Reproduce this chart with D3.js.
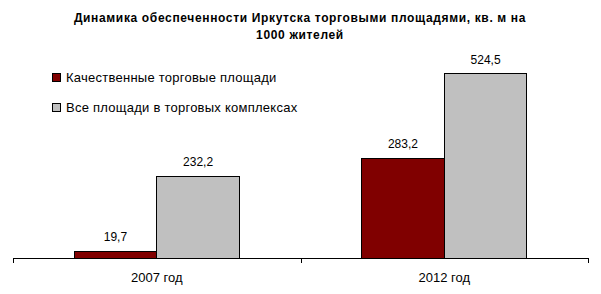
<!DOCTYPE html>
<html>
<head>
<meta charset="utf-8">
<script src="https://cdn.jsdelivr.net/npm/d3@7"></script>
<style>
  body { margin: 0; background: #fff; }
  svg { display: block; font-family: Arial, "Liberation Sans", sans-serif; }
</style>
</head>
<body>
<div id="wrapper"></div>
<script>
// Data
const categories = ["2007 год", "2012 год"]
const seriesNames = ["Качественные торговые площади", "Все площади в торговых комплексах"]
const qualityValues = [19.7, 283.2]
const allValues = [232.2, 524.5]
const titleLines = ["Динамика обеспеченности Иркутска торговыми площадями, кв. м на", "1000 жителей"]
const colors = ["#800000", "#c0c0c0"]

function drawBars() {
  const dimensions = {
    width: 601,
    height: 294,
    margin: { top: 47, right: 13, bottom: 36, left: 13 },
  }
  dimensions.boundedWidth = dimensions.width - dimensions.margin.left - dimensions.margin.right
  dimensions.boundedHeight = dimensions.height - dimensions.margin.top - dimensions.margin.bottom

  const svg = d3.select("#wrapper").append("svg")
    .attr("width", dimensions.width)
    .attr("height", dimensions.height)

  // title
  svg.append("text")
    .attr("x", 300)
    .attr("y", 22)
    .attr("text-anchor", "middle")
    .style("font-size", "12px")
    .style("font-weight", "bold")
    .style("letter-spacing", "0.65px")
    .selectAll("tspan")
    .data(titleLines)
    .join("tspan")
      .attr("x", 300)
      .attr("dy", (d, i) => i ? 17 : 0)
      .text(d => d)

  const bounds = svg.append("g")
    .attr("transform", `translate(${dimensions.margin.left},${dimensions.margin.top})`)

  // scales
  const xScale = d3.scaleBand()
    .domain(categories)
    .range([0, dimensions.boundedWidth])
    .paddingInner(0.425)
    .paddingOuter(0.2125)

  const subScale = d3.scaleBand()
    .domain(d3.range(seriesNames.length))
    .range([0, xScale.bandwidth()])

  const yScale = d3.scaleLinear()
    .domain([0, 600])
    .range([dimensions.boundedHeight, 0])

  const fmt = d3.formatLocale({ decimal: ",", thousands: " ", grouping: [3], currency: ["", ""] }).format(".1f")

  const table = categories.map((c, i) => ({ category: c, values: [qualityValues[i], allValues[i]] }))

  const groups = bounds.selectAll("g.group")
    .data(table)
    .join("g")
      .attr("class", "group")
      .attr("transform", d => `translate(${xScale(d.category)},0)`)

  const cells = groups.selectAll("g.cell")
    .data(d => d.values.map((v, k) => ({ v, k })))
    .join("g")
      .attr("class", "cell")

  cells.append("rect")
    .attr("x", d => subScale(d.k))
    .attr("y", d => yScale(d.v))
    .attr("width", subScale.bandwidth())
    .attr("height", d => yScale(0) - yScale(d.v))
    .attr("fill", d => colors[d.k])
    .attr("stroke", "#000")
    .attr("stroke-width", 1)
    .attr("shape-rendering", "crispEdges")

  cells.append("text")
    .attr("x", d => subScale(d.k) + subScale.bandwidth() / 2)
    .attr("y", d => yScale(d.v) - 10)
    .attr("text-anchor", "middle")
    .style("font-size", "12px")
    .text(d => fmt(d.v))

  // axis with ticks on category boundaries
  const edgeScale = d3.scaleLinear()
    .domain([0, categories.length])
    .range([0, dimensions.boundedWidth])

  const xAxis = bounds.append("g")
    .attr("transform", `translate(0,${dimensions.boundedHeight})`)
    .call(d3.axisBottom(edgeScale)
      .tickValues(d3.range(categories.length + 1))
      .tickSize(5)
      .tickSizeOuter(0)
      .tickFormat(""))
  xAxis.selectAll("path, line").attr("stroke", "#000").attr("shape-rendering", "crispEdges")

  bounds.append("g")
    .selectAll("text")
    .data(categories)
    .join("text")
      .attr("x", d => xScale(d) + xScale.bandwidth() / 2)
      .attr("y", dimensions.boundedHeight + 24)
      .attr("text-anchor", "middle")
      .style("font-size", "13px")
      .text(d => d)

  // legend
  const legend = svg.append("g")
    .selectAll("g")
    .data(seriesNames)
    .join("g")
      .attr("transform", (d, i) => `translate(52,${73 + i * 30})`)

  legend.append("rect")
    .attr("width", 8)
    .attr("height", 8)
    .attr("fill", (d, i) => colors[i])
    .attr("stroke", "#000")
    .attr("shape-rendering", "crispEdges")

  legend.append("text")
    .attr("x", 14)
    .attr("y", 9)
    .style("font-size", "13px")
    .style("letter-spacing", "0.25px")
    .text(d => d)
}

drawBars()
</script>
</body>
</html>
